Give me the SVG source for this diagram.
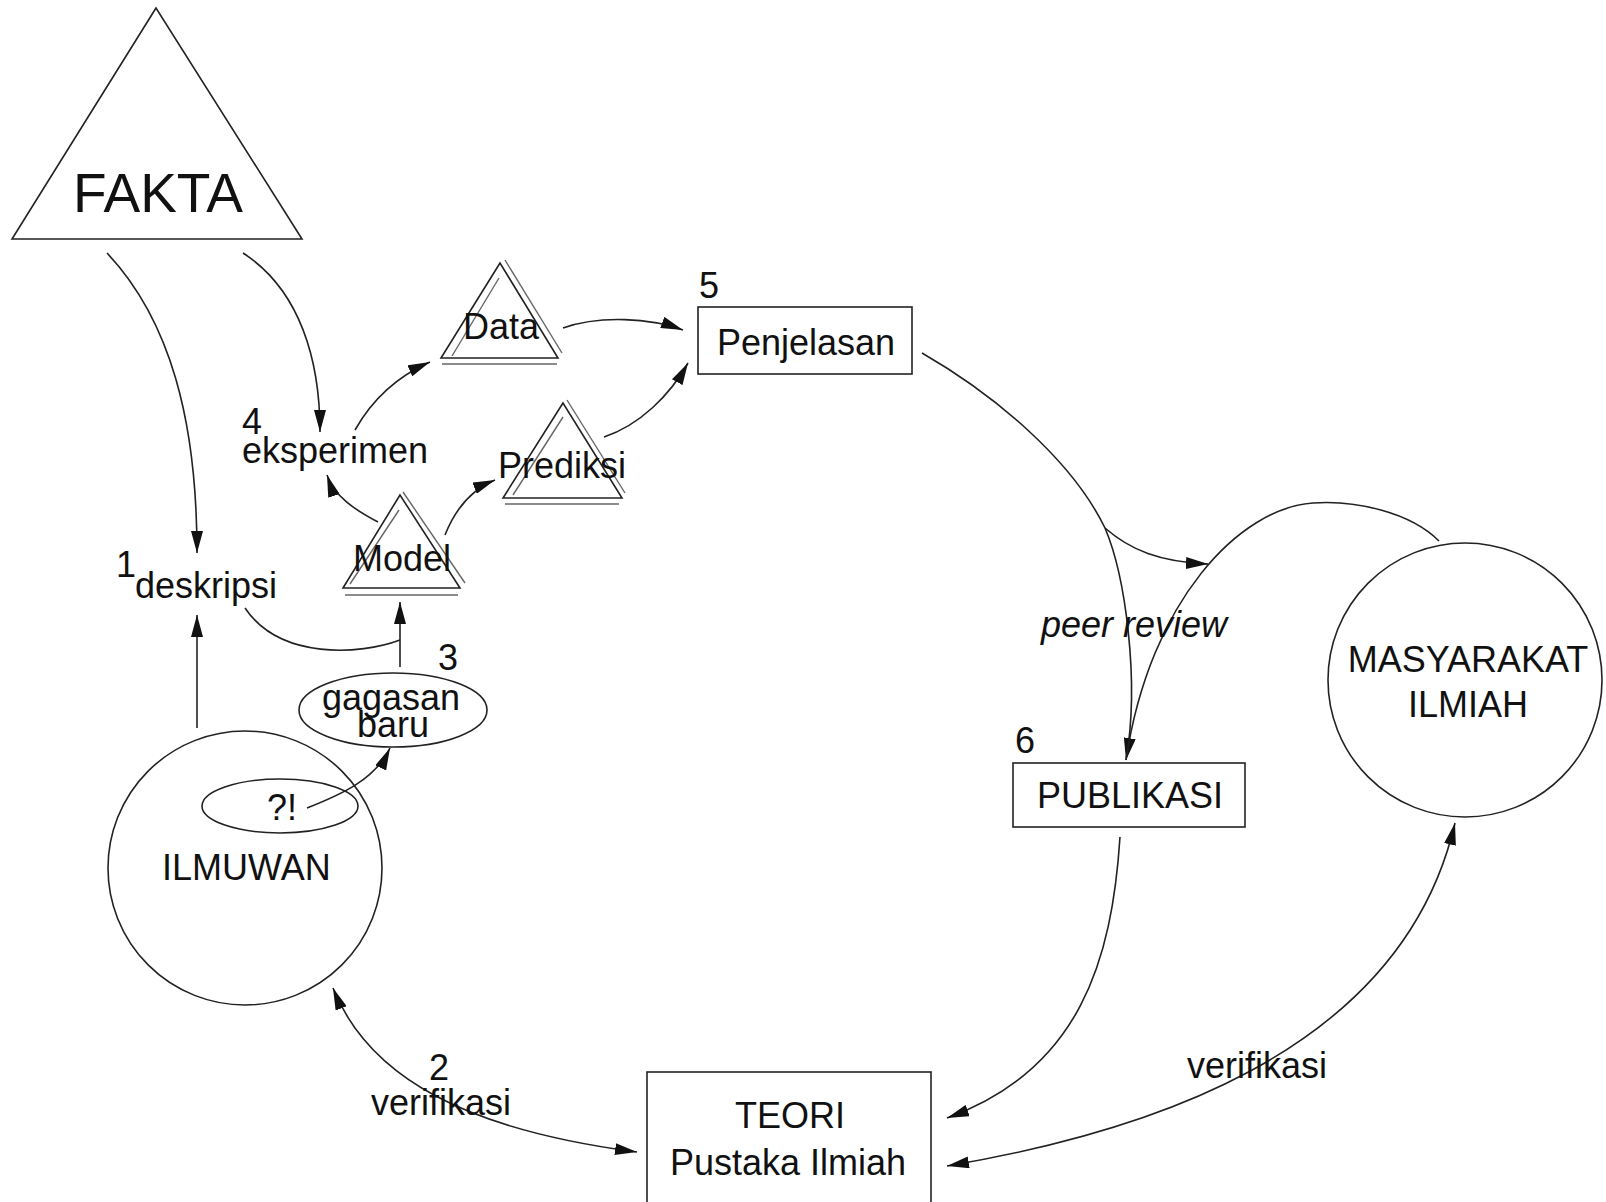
<svg xmlns="http://www.w3.org/2000/svg" width="1606" height="1202" viewBox="0 0 1606 1202">
  <defs>
    <marker id="arrow" viewBox="0 0 22 12" refX="22" refY="6" markerWidth="22" markerHeight="12" markerUnits="userSpaceOnUse" orient="auto-start-reverse">
      <path d="M0,0 L22,6 L0,12 z" fill="#111"/>
    </marker>
    <style>
      text { font-family: "Liberation Sans", Arial, sans-serif; font-size: 36px; fill: #111; }
      .shape { fill: none; stroke: #222; stroke-width: 1.6; }
      .echo { fill: none; stroke: #666; stroke-width: 1.4; }
      .link { fill: none; stroke: #222; stroke-width: 1.6; }
      .arr { marker-end: url(#arrow); }
      .both { marker-start: url(#arrow); marker-end: url(#arrow); }
      .mid { text-anchor: middle; }
    </style>
  </defs>
  <rect width="1606" height="1202" fill="#fff"/>

  <!-- FAKTA -->
  <g id="fakta">
    <polygon class="shape" points="156,8 12,239 302,239"/>
    <text x="158" y="212" class="mid" style="font-size:55px">FAKTA</text>
  </g>

  <!-- Data (double-lined triangle) -->
  <g id="data">
    <polygon class="shape" points="500,263 441,358 558,358"/>
    <line class="echo" x1="505" y1="260" x2="562" y2="353"/>
    <line class="echo" x1="499" y1="278" x2="452" y2="356"/>
    <line class="echo" x1="442" y1="364" x2="557" y2="364"/>
    <text x="463" y="339">Data</text>
  </g>

  <!-- Prediksi -->
  <g id="prediksi">
    <polygon class="shape" points="563,403 503,498 622,498"/>
    <line class="echo" x1="567" y1="400" x2="625" y2="493"/>
    <line class="echo" x1="563" y1="417" x2="513" y2="495"/>
    <line class="echo" x1="505" y1="504" x2="619" y2="504"/>
    <text x="498" y="478">Prediksi</text>
  </g>

  <!-- Model -->
  <g id="model">
    <polygon class="shape" points="400,495 343,588 460,588"/>
    <line class="echo" x1="403" y1="492" x2="465" y2="583"/>
    <line class="echo" x1="399" y1="510" x2="350" y2="584"/>
    <line class="echo" x1="345" y1="595" x2="458" y2="595"/>
    <text x="353" y="571">Model</text>
  </g>

  <!-- Penjelasan -->
  <g id="penjelasan">
    <rect class="shape" x="698" y="307" width="214" height="67"/>
    <text x="717" y="355">Penjelasan</text>
    <text x="699" y="298">5</text>
  </g>

  <!-- eksperimen -->
  <g id="eksperimen">
    <text x="242" y="434">4</text>
    <text x="242" y="463">eksperimen</text>
  </g>

  <!-- deskripsi -->
  <g id="deskripsi">
    <text x="116" y="577">1</text>
    <text x="135" y="598">deskripsi</text>
  </g>

  <!-- gagasan baru -->
  <g id="gagasan">
    <ellipse class="shape" cx="393" cy="710" rx="94" ry="37"/>
    <text x="322" y="710">gagasan</text>
    <text x="357" y="737">baru</text>
    <text x="438" y="670">3</text>
  </g>

  <!-- ILMUWAN -->
  <g id="ilmuwan">
    <circle class="shape" cx="245" cy="868" r="137"/>
    <ellipse class="shape" cx="280" cy="806" rx="78" ry="27"/>
    <text x="267" y="820">?!</text>
    <text x="162" y="880">ILMUWAN</text>
  </g>

  <!-- PUBLIKASI -->
  <g id="publikasi">
    <rect class="shape" x="1013" y="763" width="232" height="64"/>
    <text x="1037" y="808">PUBLIKASI</text>
    <text x="1015" y="753">6</text>
  </g>

  <!-- MASYARAKAT ILMIAH -->
  <g id="masyarakat">
    <circle class="shape" cx="1465" cy="680" r="137"/>
    <text x="1468" y="672" class="mid">MASYARAKAT</text>
    <text x="1468" y="717" class="mid">ILMIAH</text>
  </g>

  <!-- TEORI -->
  <g id="teori">
    <rect class="shape" x="647" y="1072" width="284" height="140"/>
    <text x="790" y="1128" class="mid">TEORI</text>
    <text x="788" y="1175" class="mid">Pustaka Ilmiah</text>
  </g>

  <!-- connectors -->
  <g id="connectors">
    <path class="link arr" d="M107,253 C170,320 197,420 197,553"/>
    <path class="link arr" d="M243,253 C300,290 320,360 320,432"/>
    <path class="link arr" d="M355,430 C372,400 398,376 430,362"/>
    <path class="link arr" d="M378,522 C355,510 334,496 327,475"/>
    <path class="link arr" d="M445,535 C455,510 470,490 495,480"/>
    <path class="link arr" d="M563,328 C600,315 650,318 683,330"/>
    <path class="link arr" d="M604,437 C640,425 670,395 688,363"/>
    <path class="link arr" d="M400,667 L400,602"/>
    <path class="link" d="M245,608 C280,660 360,655 400,640"/>
    <path class="link arr" d="M197,728 L197,615"/>
    <path class="link arr" d="M307,808 C340,795 375,780 390,748"/>

    <path class="link" d="M922,353 C995,395 1072,460 1105,528"/>
    <path class="link arr" d="M1105,528 C1125,575 1140,680 1126,760"/>
    <path class="link arr" d="M1105,528 C1130,550 1160,562 1208,564"/>
    <path class="link" d="M1439,541 C1410,512 1355,500 1313,503 C1240,508 1150,600 1126,760"/>

    <path class="link arr" d="M1120,837 C1112,960 1080,1070 947,1118"/>
    <path class="link both" d="M637,1152 C470,1130 370,1080 333,988"/>
    <path class="link both" d="M947,1166 C1130,1135 1400,1060 1455,823"/>
  </g>

  <!-- edge labels -->
  <g id="labels">
    <text x="1041" y="637" style="font-style:italic">peer review</text>
    <text x="429" y="1080">2</text>
    <text x="371" y="1115">verifikasi</text>
    <text x="1187" y="1078">verifikasi</text>
  </g>
</svg>
